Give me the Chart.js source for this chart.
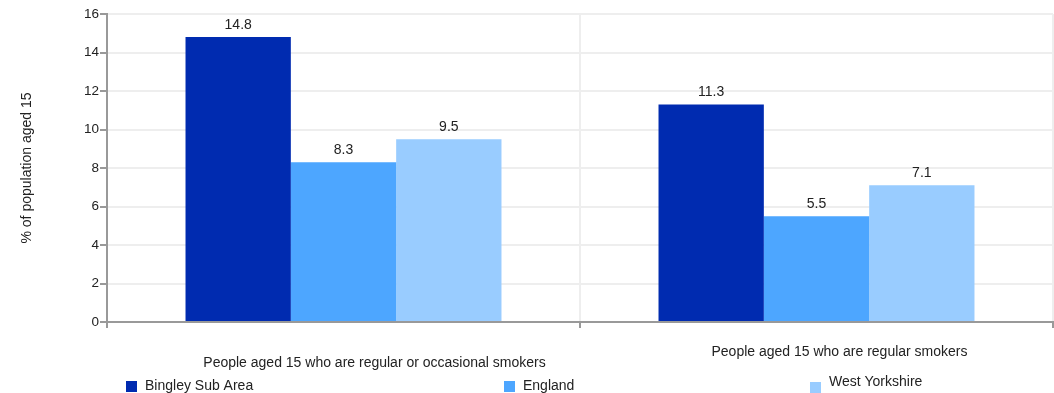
<!DOCTYPE html>
<html>
<head>
<meta charset="utf-8">
<script src="https://cdn.jsdelivr.net/npm/chart.js@4/dist/chart.umd.min.js"></script>
<style>
html,body{margin:0;padding:0;background:#fff;}
#wrap{position:relative;width:1054px;height:393px;}
</style>
</head>
<body>
<div id="wrap"><canvas id="c" width="1054" height="393"></canvas></div>
<script>
const categories = ['People aged 15 who are regular or occasional smokers', 'People aged 15 who are regular smokers'];
const seriesNames = ['Bingley Sub Area', 'England', 'West Yorkshire'];
const bingley = [14.8, 11.3];
const england = [8.3, 5.5];
const westYorkshire = [9.5, 7.1];
const yTicks = [0, 2, 4, 6, 8, 10, 12, 14, 16];
const colors = ['#002BB0', '#4DA6FF', '#99CCFF'];
const FONT = '"Liberation Sans", Arial, sans-serif';

const valueLabels = {
  id: 'valueLabels',
  afterDatasetsDraw(chart) {
    const ctx = chart.ctx;
    ctx.save();
    ctx.font = '14px ' + FONT;
    ctx.fillStyle = '#222';
    ctx.textAlign = 'center';
    ctx.textBaseline = 'alphabetic';
    chart.data.datasets.forEach((ds, di) => {
      chart.getDatasetMeta(di).data.forEach((bar, i) => {
        ctx.fillText(ds.data[i].toFixed(1), bar.x, bar.y - 8);
      });
    });
    ctx.restore();
  }
};

const catLabels = {
  id: 'catLabels',
  afterDraw(chart) {
    const ctx = chart.ctx;
    const xs = chart.scales.x;
    const shifts = [31, 23];
    const ys = [363, 352];
    ctx.save();
    ctx.font = '14px ' + FONT;
    ctx.fillStyle = '#222';
    ctx.textAlign = 'center';
    ctx.textBaseline = 'middle';
    categories.forEach((c, i) => {
      ctx.fillText(c, xs.getPixelForValue(i) + shifts[i], ys[i]);
    });
    ctx.restore();
  }
};

const customLegend = {
  id: 'customLegend',
  afterDraw(chart) {
    const ctx = chart.ctx;
    const boxX = [126, 504, 810];
    const boxY = [381, 381, 382];
    const textY = [386, 386, 382];
    ctx.save();
    ctx.font = '14px ' + FONT;
    ctx.textAlign = 'left';
    ctx.textBaseline = 'middle';
    chart.data.datasets.forEach((ds, i) => {
      ctx.fillStyle = ds.backgroundColor;
      ctx.fillRect(boxX[i], boxY[i], 11, 11);
      ctx.fillStyle = '#222';
      ctx.fillText(ds.label, boxX[i] + 19, textY[i]);
    });
    ctx.restore();
  }
};

new Chart(document.getElementById('c'), {
  type: 'bar',
  data: {
    labels: categories,
    datasets: [
      { label: seriesNames[0], data: bingley, backgroundColor: colors[0] },
      { label: seriesNames[1], data: england, backgroundColor: colors[1] },
      { label: seriesNames[2], data: westYorkshire, backgroundColor: colors[2] }
    ]
  },
  options: {
    responsive: false,
    animation: false,
    devicePixelRatio: 1,
    layout: { padding: { top: 14, right: 1, left: 0, bottom: 0 } },
    datasets: { bar: { categoryPercentage: 0.668, barPercentage: 1.0, borderWidth: 0 } },
    plugins: { legend: { display: false }, tooltip: { enabled: false } },
    scales: {
      x: {
        afterFit(scale) { scale.height = 71; },
        grid: { offset: true, color: '#eeeeee', lineWidth: 2, tickColor: '#999999', tickLength: 6, tickWidth: 2 },
        border: { color: '#999999', width: 2 },
        ticks: { display: false }
      },
      y: {
        min: 0, max: 16,
        afterFit(scale) { scale.width = 107; },
        afterBuildTicks(scale) { scale.ticks = yTicks.map(v => ({ value: v })); },
        grid: { color: '#eeeeee', lineWidth: 2, tickColor: '#999999', tickLength: 7, tickWidth: 2 },
        border: { color: '#999999', width: 2 },
        ticks: { font: { size: 13.5, family: FONT }, color: '#222', padding: 1 },
        title: { display: true, text: '% of population aged 15', font: { size: 14, family: FONT }, color: '#222', padding: { top: 19, bottom: 0 } }
      }
    }
  },
  plugins: [valueLabels, catLabels, customLegend]
});
</script>
</body>
</html>
